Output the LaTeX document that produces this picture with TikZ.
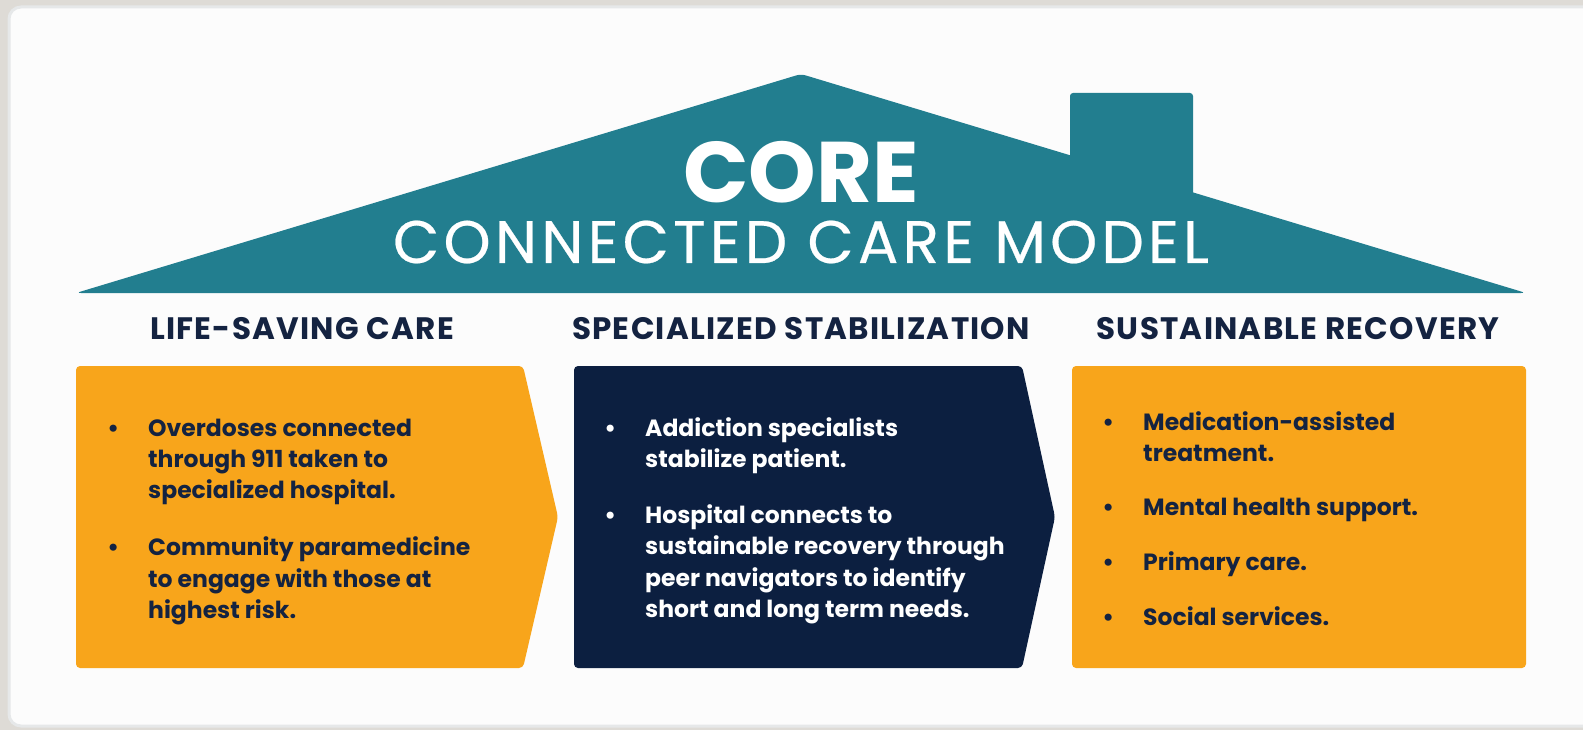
\documentclass[tikz,border=0pt]{standalone}
\usepackage{fontspec}
\setmainfont{Poppins}
\definecolor{FrameColor}{RGB}{222,219,214}
\definecolor{CardColor}{RGB}{252,252,252}
\definecolor{CardEdge}{RGB}{230,232,233}
\definecolor{RoofColor}{RGB}{34,126,143}
\definecolor{StageOrange}{RGB}{248,165,27}
\definecolor{StageNavy}{RGB}{12,31,64}
\definecolor{InkColor}{RGB}{20,35,65}
\usetikzlibrary{positioning}
\tikzstyle{roof} = [fill=RoofColor, rounded corners=5pt]
\tikzstyle{stage} = [rounded corners=4pt]
\tikzstyle{titletext} = [anchor=base, inner sep=0pt, text=white, font=\fontsize{86}{90}\selectfont\bfseries]
\tikzstyle{subtitletext} = [anchor=base, inner sep=0pt, text=white, font=\fontsize{60}{64}\selectfont\addfontfeature{LetterSpace=7,FakeBold=0.4}]
\tikzstyle{heading} = [anchor=base, inner sep=0pt, text=InkColor, font=\fontsize{31}{34}\selectfont\bfseries\addfontfeature{LetterSpace=4}]
\tikzstyle{bodytext} = [anchor=base west, inner sep=0pt, align=left, font=\fontsize{23.5}{31.3}\selectfont\bfseries]
\newcommand{\dotmark}{\makebox[14pt]{\textbullet}}

\begin{document}
\begin{tikzpicture}[x=1pt, y=-1pt]
    % backdrop and card
    \useasboundingbox (0,0) rectangle (1583,730);
    \fill[FrameColor] (0,0) rectangle (1583,730);
    \draw[CardEdge, fill=CardColor, line width=3pt, rounded corners=12pt] (9,7) rectangle (1610,726);

    % roof with chimney
    \fill[roof] (76,293) -- (801,74) -- (1526,293) -- cycle;
    \fill[RoofColor, rounded corners=3pt] (1070,93) rectangle (1193,200);
    \node[titletext] (core) at (801,203) {CORE};
    \node[subtitletext] (model) at (801,263) {CONNECTED CARE MODEL};

    % stage headings
    \node[heading] (lifehead) at (302,339) {LIFE-SAVING CARE};
    \node[heading] (stabhead) at (801,339) {SPECIALIZED STABILIZATION};
    \node[heading] (recohead) at (1298,339) {SUSTAINABLE RECOVERY};

    % stage boxes
    \fill[stage, StageOrange] (76,366) -- (523,366) -- (558,517) -- (523,668) -- (76,668) -- cycle;
    \fill[stage, StageNavy] (574,366) -- (1022,366) -- (1055,517) -- (1022,668) -- (574,668) -- cycle;
    \fill[stage, StageOrange] (1072,366) rectangle (1526,668);

    % bullet lists
    \node[bodytext, text=InkColor] (lifelist) at (106,436) {%
        \begin{tabular}[t]{@{}l@{\hspace{28pt}}l@{}}
        \dotmark & Overdoses connected\\
                 & through 911 taken to\\
                 & specialized hospital.\\[26pt]
        \dotmark & Community paramedicine\\
                 & to engage with those at\\
                 & highest risk.
        \end{tabular}};
    \node[bodytext, text=white] (stablist) at (603,436) {%
        \begin{tabular}[t]{@{}l@{\hspace{28pt}}l@{}}
        \dotmark & Addiction specialists\\
                 & stabilize patient.\\[25pt]
        \dotmark & Hospital connects to\\
                 & sustainable recovery through\\
                 & peer navigators to identify\\
                 & short and long term needs.
        \end{tabular}};
    \node[bodytext, text=InkColor] (recolist) at (1101,430) {%
        \begin{tabular}[t]{@{}l@{\hspace{28pt}}l@{}}
        \dotmark & Medication-assisted\\
                 & treatment.\\[23pt]
        \dotmark & Mental health support.\\[24pt]
        \dotmark & Primary care.\\[23pt]
        \dotmark & Social services.
        \end{tabular}};
\end{tikzpicture}
\end{document}
